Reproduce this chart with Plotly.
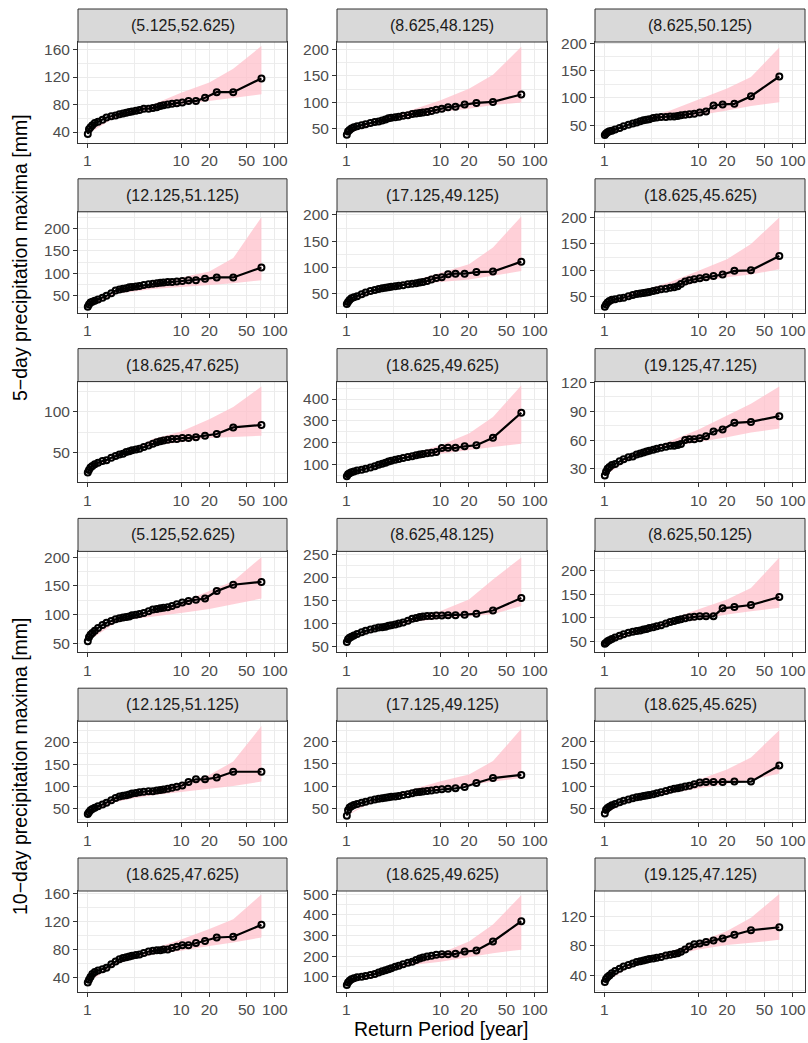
import plotly.graph_objects as go

# ---------------- data ----------------
RP = [1.01, 1.04, 1.08, 1.13, 1.2, 1.3, 1.45, 1.6, 1.8, 2.0, 2.2, 2.4, 2.6, 2.8, 3.0,
      3.3, 3.6, 4.0, 4.5, 5.0, 5.5, 6.0, 6.5, 7.2, 8.0, 9.0, 10.3, 12.0, 14.4, 18.0,
      24.0, 36.0, 72.0]
RIB_X = [1.01, 2, 3, 5, 10, 20, 36, 72]

X_TICKS = [1, 10, 20, 50, 100]
X_TICKTEXT = ["1", "10", "20", "50", "100"]

TITLES = ["(5.125,52.625)", "(8.625,48.125)", "(8.625,50.125)",
          "(12.125,51.125)", "(17.125,49.125)", "(18.625,45.625)",
          "(18.625,47.625)", "(18.625,49.625)", "(19.125,47.125)",
          "(5.125,52.625)", "(8.625,48.125)", "(8.625,50.125)",
          "(12.125,51.125)", "(17.125,49.125)", "(18.625,45.625)",
          "(18.625,47.625)", "(18.625,49.625)", "(19.125,47.125)"]

# 5-day maxima
d5_01 = [37,44,47,50,53,55,58,61,63,64,66,67,68,69,70,71,72,74,74,75,76,78,79,80,81,82,83,85,85,90,98,98,118]
d5_02 = [39,45,48,51,53,55,57,59,61,63,64,66,68,70,71,72,73,75,76,78,79,80,81,82,84,86,88,91,92,96,99,101,115]
d5_03 = [32,35,37,39,40,42,45,48,51,53,55,57,59,60,61,63,64,65,65,66,66,67,68,69,70,71,73,75,86,88,89,103,139]
d5_04 = [26,31,35,37,39,42,46,50,56,62,64,66,67,69,70,71,72,74,76,77,78,79,80,81,81,82,83,85,85,88,91,91,113]
d5_05 = [30,34,38,41,43,45,49,52,55,57,59,60,61,62,63,64,65,66,68,69,70,71,72,74,77,80,81,87,88,88,91,92,111]
d5_06 = [31,35,39,42,44,45,47,48,51,53,55,56,57,58,59,61,62,64,65,67,68,70,74,79,81,83,85,87,89,92,99,100,127]
d5_07 = [26,29,32,34,36,38,40,41,44,46,48,49,51,52,53,54,55,57,59,61,63,64,65,66,67,67,68,68,69,71,73,81,84]
d5_08 = [46,55,60,64,68,72,76,80,86,92,98,103,108,113,117,121,125,129,134,138,142,146,148,151,154,157,175,177,176,183,188,222,337]
d5_09 = [23,27,30,32,34,35,38,40,42,43,45,46,47,48,49,50,51,52,53,54,54,55,56,60,61,61,62,64,69,71,78,79,85]
# 10-day maxima
d10_01 = [54,61,65,68,72,77,82,86,89,92,94,95,96,97,99,100,101,103,106,109,110,111,112,113,115,118,121,124,126,128,141,152,157]
d10_02 = [60,66,69,71,74,77,81,84,87,89,91,92,93,95,96,98,100,102,106,110,112,114,115,116,116,117,117,118,118,119,121,128,155]
d10_03 = [45,47,50,52,55,58,62,65,68,70,72,73,75,76,78,80,82,84,88,91,93,95,97,99,101,102,103,103,103,120,123,127,144]
d10_04 = [38,42,46,49,52,55,59,63,69,74,77,79,80,82,84,85,87,88,89,89,91,92,93,95,97,99,102,110,116,116,120,133,133]
d10_05 = [34,46,52,55,58,60,63,65,68,70,72,73,74,75,76,77,78,80,82,84,86,87,88,89,90,92,93,94,95,98,107,118,125]
d10_06 = [39,47,51,54,57,60,64,67,70,73,75,76,78,79,80,82,84,86,89,92,94,95,97,99,101,104,108,109,109,109,110,110,146]
d10_07 = [33,37,41,45,48,50,52,54,59,63,66,68,69,70,71,72,73,75,77,78,79,79,80,80,82,84,86,86,89,92,97,98,115]
d10_08 = [60,72,80,87,92,97,100,103,108,113,120,126,131,136,141,148,153,160,167,173,181,188,193,198,202,206,209,209,211,222,227,271,369]
d10_09 = [31,35,38,40,43,46,49,52,54,56,58,59,60,61,62,63,64,65,67,68,69,70,72,75,79,82,83,85,87,90,95,101,105]

# uncertainty band (lower / upper) at RIB_X
lo5_01 = [37,62,68,72,80,86,90,95];      up5_01 = [39,66,72,80,97,112,132,165]
lo5_02 = [39,62,68,74,82,88,95,100];     up5_02 = [41,65,74,86,104,126,152,205]
lo5_03 = [32,52,60,62,68,77,85,92];      up5_03 = [34,56,66,77,97,117,138,192]
lo5_04 = [26,55,59,65,70,74,78,85];      up5_04 = [28,63,70,78,91,104,134,225]
lo5_05 = [30,56,60,67,72,77,84,93];      up5_05 = [32,59,65,74,90,106,138,197]
lo5_06 = [31,51,57,64,78,87,92,102];     up5_06 = [33,59,66,78,99,121,150,200]
lo5_07 = [26,45,51,59,63,68,69,71];      up5_07 = [28,48,55,67,76,91,106,131]
lo5_08 = [46,88,113,134,149,165,180,195]; up5_08 = [48,94,120,149,188,242,318,462]
lo5_09 = [23,42,48,53,58,63,68,72];      up5_09 = [25,45,51,59,71,86,98,116]
lo10_01 = [54,86,92,97,103,110,118,128]; up10_01 = [56,92,99,106,121,141,158,200]
lo10_02 = [60,86,93,103,110,115,120,138]; up10_02 = [62,90,98,112,127,152,195,243]
lo10_03 = [44,66,74,86,96,107,114,121];  up10_03 = [46,72,81,96,118,139,163,228]
lo10_04 = [38,65,73,80,88,95,101,111];   up10_04 = [40,72,80,92,107,126,156,236]
lo10_05 = [34,68,75,82,91,102,110,118];  up10_05 = [36,71,79,92,111,126,156,228]
lo10_06 = [38,70,75,84,95,105,114,128];  up10_06 = [40,75,81,95,114,137,164,225]
lo10_07 = [33,59,66,73,78,85,90,97];     up10_07 = [35,63,71,81,94,109,123,158]
lo10_08 = [59,108,129,157,173,195,214,231]; up10_08 = [61,115,141,173,214,271,353,495]
lo10_09 = [30,54,60,66,75,81,84,88];     up10_09 = [32,57,63,72,85,100,118,150]

# y tick labels per panel
yt_01 = [40, 80, 120, 160]; yt_02 = [50, 100, 150, 200]; yt_03 = [50, 100, 150, 200]
yt_04 = [50, 100, 150, 200]; yt_05 = [50, 100, 150, 200]; yt_06 = [50, 100, 150, 200]
yt_07 = [50, 100]; yt_08 = [100, 200, 300, 400]; yt_09 = [30, 60, 90, 120]
yt_10 = [50, 100, 150, 200]; yt_11 = [50, 100, 150, 200, 250]; yt_12 = [50, 100, 150, 200]
yt_13 = [50, 100, 150, 200]; yt_14 = [50, 100, 150, 200]; yt_15 = [50, 100, 150, 200]
yt_16 = [40, 80, 120, 160]; yt_17 = [100, 200, 300, 400, 500]; yt_18 = [40, 80, 120]

VALS = [d5_01, d5_02, d5_03, d5_04, d5_05, d5_06, d5_07, d5_08, d5_09,
        d10_01, d10_02, d10_03, d10_04, d10_05, d10_06, d10_07, d10_08, d10_09]
LOS = [lo5_01, lo5_02, lo5_03, lo5_04, lo5_05, lo5_06, lo5_07, lo5_08, lo5_09,
       lo10_01, lo10_02, lo10_03, lo10_04, lo10_05, lo10_06, lo10_07, lo10_08, lo10_09]
UPS = [up5_01, up5_02, up5_03, up5_04, up5_05, up5_06, up5_07, up5_08, up5_09,
       up10_01, up10_02, up10_03, up10_04, up10_05, up10_06, up10_07, up10_08, up10_09]
YTICKS = [yt_01, yt_02, yt_03, yt_04, yt_05, yt_06, yt_07, yt_08, yt_09,
          yt_10, yt_11, yt_12, yt_13, yt_14, yt_15, yt_16, yt_17, yt_18]

# ---------------- layout (pixel geometry, page coordinates) ----------------
W, H = 808, 1043
YRANGES = [[24.5, 171], [24, 214], [18, 202],
           [13, 237], [14, 206], [20, 211],
           [14, 137], [18, 480], [16, 121],
           [35, 210], [38, 256], [27, 241],
           [20, 247], [20, 245], [20, 245],
           [20, 163], [27, 516], [18, 154]]
COL_X = [(78, 287), (337, 547), (595, 805)]
FONT = "Liberation Sans, Arial, sans-serif"


def px(x):
    return x / W


def py(y):
    return 1 - y / H


def row_px(r):
    st = 9 + 169.8 * r
    return st, st + 33, st + 133.7


fig = go.Figure()
shapes, annotations = [], []
layout_axes = {}

for i in range(18):
    r, c = divmod(i, 3)
    n = i + 1
    xa = "x" if n == 1 else f"x{n}"
    ya = "y" if n == 1 else f"y{n}"
    xk = "xaxis" if n == 1 else f"xaxis{n}"
    yk = "yaxis" if n == 1 else f"yaxis{n}"
    x0, x1 = COL_X[c]
    st, pt, pb = row_px(r)

    fig.add_trace(go.Scatter(
        x=RIB_X + RIB_X[::-1], y=UPS[i] + LOS[i][::-1],
        fill="toself", fillcolor="rgba(255,192,203,0.75)",
        line=dict(width=0), mode="lines", hoverinfo="skip",
        xaxis=xa, yaxis=ya, showlegend=False))
    fig.add_trace(go.Scatter(
        x=RP, y=VALS[i], mode="lines+markers",
        line=dict(color="black", width=2.2),
        marker=dict(symbol="circle-open", size=6, color="black",
                    line=dict(width=2, color="black")),
        xaxis=xa, yaxis=ya, showlegend=False))

    yt = YTICKS[i]
    step = yt[1] - yt[0]
    yminor = [t - step / 2 for t in yt] + [yt[-1] + step / 2]

    layout_axes[xk] = dict(
        domain=[px(x0), px(x1)], anchor=ya, type="log", range=[-0.1, 2.13],
        tickmode="array", tickvals=X_TICKS, ticktext=X_TICKTEXT,
        showgrid=True, gridcolor="#EBEBEB", gridwidth=1.2,
        minor=dict(tickmode="array", tickvals=[3.162, 14.14, 31.62, 70.71],
                   showgrid=True, gridcolor="#EDEDED", gridwidth=0.8, ticks=""),
        ticks="outside", ticklen=4, tickwidth=1, tickcolor="#333333",
        tickfont=dict(family=FONT, size=15.5, color="#4D4D4D"),
        showline=True, mirror=True, linecolor="#333333", linewidth=1,
        zeroline=False, automargin=False, fixedrange=True)
    layout_axes[yk] = dict(
        domain=[py(pb), py(pt)], anchor=xa, range=YRANGES[i],
        tickmode="array", tickvals=yt,
        showgrid=True, gridcolor="#EBEBEB", gridwidth=1.2,
        minor=dict(tickmode="array", tickvals=yminor, showgrid=True,
                   gridcolor="#EDEDED", gridwidth=0.8, ticks=""),
        ticks="outside", ticklen=4, tickwidth=1, tickcolor="#333333",
        tickfont=dict(family=FONT, size=15.5, color="#4D4D4D"),
        showline=True, mirror=True, linecolor="#333333", linewidth=1,
        zeroline=False, automargin=False, fixedrange=True)

    # strip
    shapes.append(dict(type="rect", xref="paper", yref="paper",
                       x0=px(x0), x1=px(x1), y0=py(pt), y1=py(st),
                       fillcolor="#D9D9D9", line=dict(color="#333333", width=1)))
    annotations.append(dict(text=TITLES[i], xref="paper", yref="paper",
                            x=px((x0 + x1) / 2), y=py((st + pt) / 2),
                            showarrow=False, xanchor="center", yanchor="middle",
                            font=dict(family=FONT, size=16, color="#1A1A1A")))

annotations.append(dict(text="5\u2212day precipitation maxima [mm]", xref="paper", yref="paper",
                        x=px(20), y=py(258), textangle=-90, showarrow=False,
                        xanchor="center", yanchor="middle",
                        font=dict(family=FONT, size=19.5, color="black")))
annotations.append(dict(text="10\u2212day precipitation maxima [mm]", xref="paper", yref="paper",
                        x=px(20), y=py(766), textangle=-90, showarrow=False,
                        xanchor="center", yanchor="middle",
                        font=dict(family=FONT, size=19.5, color="black")))
annotations.append(dict(text="Return Period [year]", xref="paper", yref="paper",
                        x=px(441), y=py(1029), showarrow=False,
                        xanchor="center", yanchor="middle",
                        font=dict(family=FONT, size=19.5, color="black")))

fig.update_layout(width=W, height=H, margin=dict(l=0, r=0, t=0, b=0),
                  paper_bgcolor="white", plot_bgcolor="white",
                  shapes=shapes, annotations=annotations, showlegend=False,
                  **layout_axes)

# remove the default page margin so the 808x1043 figure fills the window exactly
fig.write_html("out.html",
               config={"displayModeBar": False},
               post_script="document.body.style.margin='0';"
                           "document.body.style.overflow='hidden';")
